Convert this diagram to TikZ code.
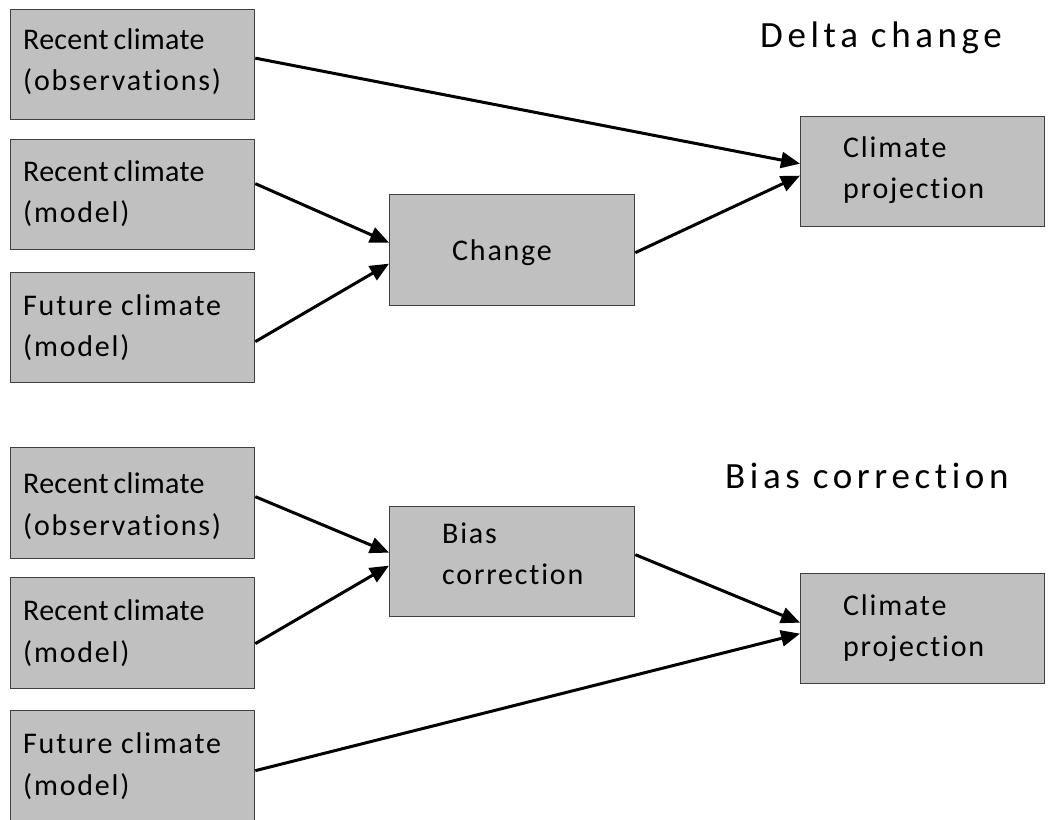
\documentclass[tikz,border=0pt]{standalone}
\usepackage{fontspec}
\setmainfont{Carlito}
\newfontfamily\bodyfont{Carlito}[LetterSpace=6, Ligatures=NoCommon]
\newfontfamily\tightfont{Carlito}[LetterSpace=1, Ligatures=NoCommon]
\newfontfamily\titlefont{Carlito}[LetterSpace=12.5, Ligatures=NoCommon]
\usetikzlibrary{arrows.meta}
\definecolor{boxfill}{RGB}{192,192,192}
\definecolor{boxline}{RGB}{64,64,64}
\tikzset{
  box/.style={draw=boxline, fill=boxfill, line width=1.3pt, minimum width=244pt, minimum height=110pt, inner sep=0pt, anchor=north west},
  lbl/.style={anchor=base west, inner sep=0pt, text=black, font=\bodyfont\fontsize{30}{36}\selectfont},
  tlbl/.style={lbl, font=\tightfont\fontsize{30}{36}\selectfont},
  ttl/.style={anchor=base west, inner sep=0pt, text=black, font=\titlefont\fontsize{37}{44}\selectfont},
  arr/.style={line width=3pt, draw=black, -{Triangle[length=19pt,width=16pt]}}
}
\begin{document}
\begin{tikzpicture}[x=1pt,y=-1pt]
\useasboundingbox[fill=white] (0,0) rectangle (1049,819);
% ---- Delta change ----
\node[box] (b1) at (10,9) {};
\node[box] (b2) at (10,139) {};
\node[box] (b3) at (10,272) {};
\node[box, minimum width=245pt, minimum height=111pt] (ch) at (389,194) {};
\node[box] (cp1) at (800,116) {};
\node[tlbl] (t1a) at (23,49) {Recent\kern-2pt{} climate};
\node[lbl] (t1b) at (23,90) {(observations)};
\node[tlbl] (t2a) at (23,181) {Recent\kern-2pt{} climate};
\node[lbl] (t2b) at (23,222) {(model)};
\node[lbl] (t3a) at (23,315) {Future climate};
\node[lbl] (t3b) at (23,356) {(model)};
\node[lbl] (tch) at (452,260) {Change};
\node[lbl] (tcp1a) at (843,157) {Climate};
\node[lbl] (tcp1b) at (843,198) {projection};
\node[ttl] (title1) at (760,47) {Delta change};
\draw[arr] ([yshift=6.5pt]b1.east) -- ([yshift=8pt]cp1.west);
\draw[arr] ([yshift=11pt]b2.east) -- ([yshift=7.5pt]ch.west);
\draw[arr] ([yshift=-14pt]b3.east) -- ([yshift=-13.5pt]ch.west);
\draw[arr] ([yshift=-2.5pt]ch.east) -- ([yshift=-4pt]cp1.west);
% ---- Bias correction ----
\node[box, minimum height=111pt] (b4) at (10,447) {};
\node[box, minimum height=111pt] (b5) at (10,577) {};
\node[box] (b6) at (10,710) {};
\node[box, minimum width=245pt] (bc) at (389,506) {};
\node[box] (cp2) at (800,573) {};
\node[tlbl] (t4a) at (23,493) {Recent\kern-2pt{} climate};
\node[lbl] (t4b) at (23,535) {(observations)};
\node[tlbl] (t5a) at (23,620) {Recent\kern-2pt{} climate};
\node[lbl] (t5b) at (23,662) {(model)};
\node[lbl] (t6a) at (23,753) {Future climate};
\node[lbl] (t6b) at (23,795) {(model)};
\node[lbl] (tbca) at (442,543) {Bias};
\node[lbl] (tbcb) at (442,584) {correction};
\node[lbl] (tcp2a) at (843,615) {Climate};
\node[lbl] (tcp2b) at (843,656) {projection};
\node[ttl] (title2) at (725,488) {Bias correction};
\draw[arr] ([yshift=6.5pt]b4.east) -- ([yshift=9pt]bc.west);
\draw[arr] ([yshift=-10.5pt]b5.east) -- ([yshift=-4pt]bc.west);
\draw[arr] ([yshift=7pt]bc.east) -- ([yshift=6pt]cp2.west);
\draw[arr] ([yshift=-5pt]b6.east) -- ([yshift=-5pt]cp2.west);
\end{tikzpicture}
\end{document}
